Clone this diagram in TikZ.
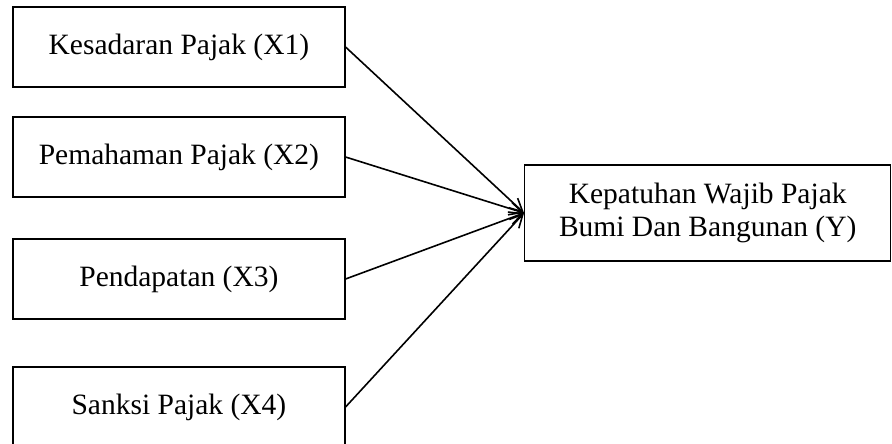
\documentclass[tikz,border=0pt]{standalone}
\usepackage{fontspec}
\setmainfont{Liberation Serif}
\usetikzlibrary{arrows.meta}
\begin{document}
\begin{tikzpicture}[x=1pt,y=-1pt,
  leftbox/.style={draw, line width=1.3pt, minimum width=332pt, minimum height=80pt, inner sep=0pt, font=\fontsize{29.5}{33}\selectfont},
  rightbox/.style={draw, line width=1.3pt, minimum width=366pt, minimum height=96pt, inner sep=0pt, align=center, font=\fontsize{29.5}{33}\selectfont},
  link/.style={line width=1.6pt, -{Straight Barb[length=13pt,width=13pt,line width=1.6pt]}}]
\useasboundingbox (0,0) rectangle (892,444);
\clip (0,0) rectangle (892,444);
\node[leftbox] (x1) at (178.9,47) {Kesadaran Pajak (X1)};
\node[leftbox] (x2) at (178.9,157) {Pemahaman Pajak (X2)};
\node[leftbox] (x3) at (178.9,279) {Pendapatan (X3)};
\node[leftbox] (x4) at (178.9,407) {Sanksi Pajak (X4)};
\node[rightbox] (y) at (707.7,213) {Kepatuhan Wajib Pajak\\Bumi Dan Bangunan (Y)};
\draw[link] (x1.east) -- (y.west);
\draw[link] (x2.east) -- (y.west);
\draw[link] (x3.east) -- (y.west);
\draw[link] (x4.east) -- (y.west);
\end{tikzpicture}
\end{document}
